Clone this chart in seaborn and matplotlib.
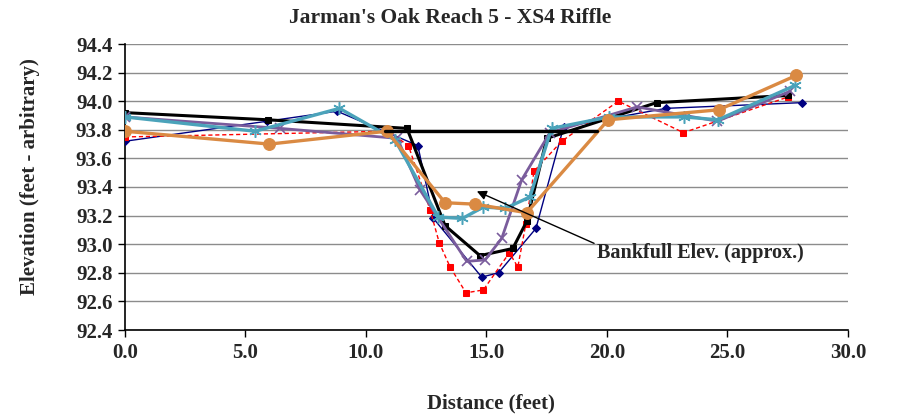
import matplotlib
matplotlib.use("Agg")
import matplotlib.pyplot as plt
import seaborn as sns
import pandas as pd

# ---- data ----
navy_x = [0.0, 5.9, 8.8, 12.15, 12.8, 14.8, 15.5, 17.05, 18.2, 22.45, 28.1]
navy_y = [93.72, 93.86, 93.93, 93.69, 93.18, 92.77, 92.80, 93.11, 93.82, 93.95, 93.99]

red_x = [0.0, 10.9, 11.76, 12.66, 13.04, 13.49, 14.15, 14.87, 15.95, 16.3, 16.63, 16.97, 18.12, 20.47, 23.17, 27.52]
red_y = [93.75, 93.79, 93.69, 93.24, 93.01, 92.84, 92.66, 92.68, 92.94, 92.84, 93.14, 93.51, 93.72, 94.00, 93.78, 94.03]

black_x = [0.0, 5.93, 11.7, 13.28, 14.73, 16.09, 16.67, 17.5, 22.06, 27.5]
black_y = [93.92, 93.87, 93.81, 93.13, 92.92, 92.97, 93.16, 93.74, 93.99, 94.04]

purple_x = [0.0, 6.43, 11.3, 12.24, 14.18, 14.94, 15.63, 16.46, 17.63, 21.25, 24.58, 27.6]
purple_y = [93.89, 93.81, 93.74, 93.38, 92.88, 92.89, 93.04, 93.45, 93.78, 93.96, 93.86, 94.07]

teal_x = [0.0, 5.4, 8.9, 11.2, 13.0, 14.0, 14.87, 15.77, 16.8, 17.7, 20.1, 23.2, 24.6, 27.8]
teal_y = [93.89, 93.79, 93.95, 93.73, 93.19, 93.18, 93.26, 93.25, 93.33, 93.81, 93.89, 93.89, 93.87, 94.11]

orange_x = [0.0, 5.99, 10.86, 13.28, 14.53, 16.67, 20.05, 24.64, 27.85]
orange_y = [93.79, 93.70, 93.79, 93.29, 93.28, 93.22, 93.87, 93.94, 94.18]

bankfull_x = [10.8, 19.6]
bankfull_y = [93.79, 93.79]

annot_text = "Bankfull Elev. (approx.)"
annot_xy = (14.6, 93.37)
annot_text_xy = (19.6, 92.94)

title = "Jarman's Oak Reach 5 - XS4 Riffle"
xlabel = "Distance (feet)"
ylabel = "Elevation (feet - arbitrary)"
x_ticks = [0, 5, 10, 15, 20, 25, 30]
y_ticks = [92.4, 92.6, 92.8, 93.0, 93.2, 93.4, 93.6, 93.8, 94.0, 94.2, 94.4]

# ---- plotting ----
sns.set_theme(style="white")
plt.rcParams['font.family'] = ['Liberation Serif', 'DejaVu Serif']
plt.rcParams['font.weight'] = 'bold'

fig = plt.figure(figsize=(9.02, 4.18), dpi=100)
ax = fig.add_axes([125/902, 1-330/418, (848-125)/902, (330-44)/418])

for yv in y_ticks:
    ax.axhline(yv, color='#8c8c8c', lw=1.0, zorder=0)

def draw(xs, ys, **kw):
    df = pd.DataFrame({'x': xs, 'y': ys})
    sns.lineplot(data=df, x='x', y='y', sort=False, estimator=None, ax=ax, **kw)

draw(navy_x, navy_y, color='#000080', lw=1.0, marker='D', markersize=4.5,
     markeredgecolor='#000080', zorder=3)
draw(red_x, red_y, color='#FF0000', lw=1.0, linestyle=(0, (3, 2)), marker='s', markersize=5,
     markeredgecolor='#FF0000', zorder=3)
draw(black_x, black_y, color='black', lw=2.2, marker='s', markersize=4,
     markeredgecolor='black', zorder=4)
draw(purple_x, purple_y, color='#7A5C9C', lw=2.0, marker='x', markersize=7,
     markeredgewidth=1.2, markeredgecolor='#7A5C9C', zorder=4)
draw(teal_x, teal_y, color='#4BA3BA', lw=2.4, marker=(6, 2, 0), markersize=9,
     markeredgewidth=1.1, markeredgecolor='#4BA3BA', zorder=5)
draw(orange_x, orange_y, color='#DA8A43', lw=2.4, marker='o', markersize=8.5,
     markeredgecolor='#DA8A43', zorder=6)
draw(bankfull_x, bankfull_y, color='black', lw=2.4, zorder=6)

ax.annotate(annot_text, xy=annot_xy, xytext=annot_text_xy,
            fontsize=14.5, fontweight='bold', ha='left', va='center',
            arrowprops=dict(arrowstyle='-|>', color='black', lw=1.0,
                            shrinkA=0, shrinkB=0, relpos=(0, 0.9),
                            mutation_scale=14), zorder=7)

ax.set_xlim(0, 30)
ax.set_ylim(92.4, 94.4)
ax.set_xticks(x_ticks)
ax.set_xticklabels([f"{v:.1f}" for v in x_ticks])
ax.set_yticks(y_ticks)
ax.set_yticklabels([f"{v:.1f}" for v in y_ticks])
ax.tick_params(axis='both', direction='out', length=5, width=1, color='black',
               labelsize=15, pad=4, left=True, bottom=True)
for lab in ax.get_xticklabels() + ax.get_yticklabels():
    lab.set_fontweight('bold')

for s in ['top', 'right']:
    ax.spines[s].set_visible(False)
for s in ['left', 'bottom']:
    ax.spines[s].set_color('black')
    ax.spines[s].set_linewidth(1.2)

fig.text(450/902, 1-18/418, title, fontsize=15.5, fontweight='bold',
         ha='center', va='center')
ax.set_xlabel(xlabel, fontsize=15, fontweight='bold')
ax.xaxis.set_label_coords((491-125)/723, (330-403)/286)
ax.xaxis.label.set_va('center')
ax.set_ylabel(ylabel, fontsize=15, fontweight='bold')
ax.yaxis.set_label_coords((30-125)/723, (330-177)/286)
ax.yaxis.label.set_va('center')

fig.savefig('out.png', dpi=100)
